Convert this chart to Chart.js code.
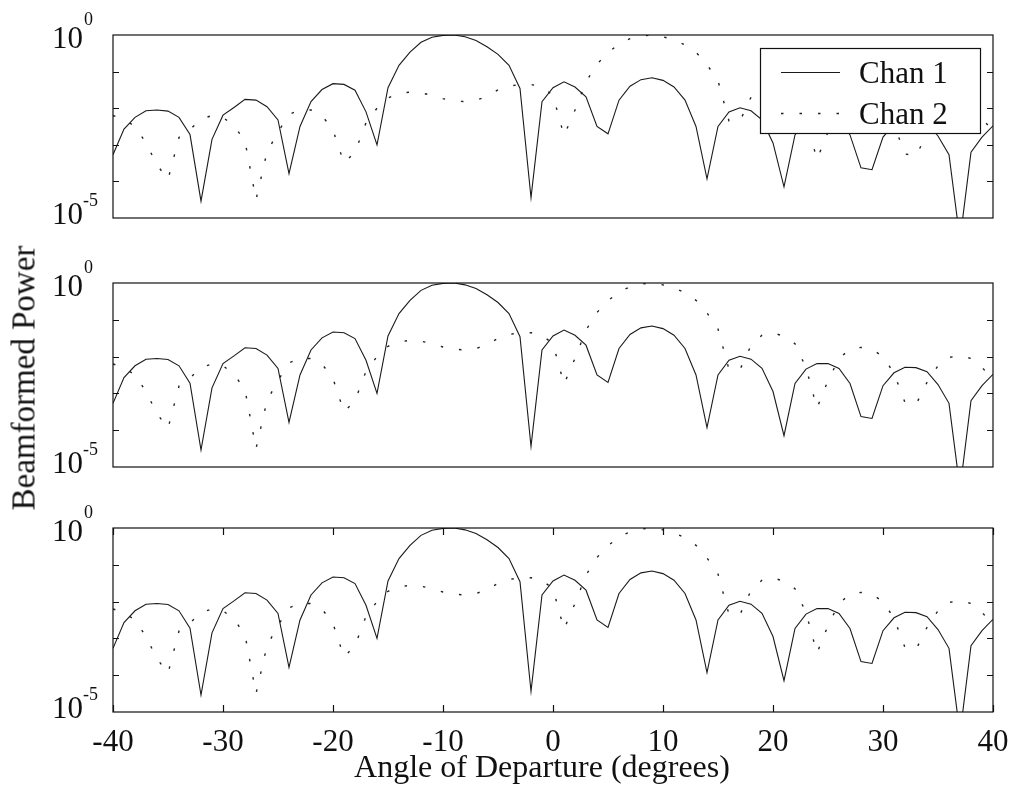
<!DOCTYPE html>
<html>
<head>
<meta charset="utf-8">
<script src="https://cdn.jsdelivr.net/npm/chart.js@4.4.0/dist/chart.umd.min.js"></script>
<style>
  body { margin: 0; background: #fff; }
  #wrap { position: relative; width: 1013px; height: 799px; overflow: hidden; }
  canvas { position: absolute; left: 0; }
  .title { position: absolute; font-family: "Liberation Serif", "Times New Roman", serif; color: #111; white-space: nowrap; }
  #ytitle { left: 24px; top: 378px; font-size: 33px; transform: translate(-50%, -50%) rotate(-90deg); }
  #xtitle { left: 542px; top: 766px; font-size: 32px; transform: translate(-50%, -50%); }
</style>
</head>
<body>
<div id="wrap">
  <canvas id="c1" width="1013" height="245" style="top:0px"></canvas>
  <canvas id="c2" width="1013" height="245" style="top:245px"></canvas>
  <canvas id="c3" width="1013" height="309" style="top:490px"></canvas>
  <div id="ytitle" class="title">Beamformed Power</div>
  <div id="xtitle" class="title">Angle of Departure (degrees)</div>
</div>
<script>
// angles (degrees)
const angles = [-40, -39, -38, -37, -36, -35, -34, -33, -32, -31, -30, -29, -28, -27, -26, -25, -24, -23, -22, -21,
  -20, -19, -18, -17, -16, -15, -14, -13, -12, -11, -10, -9, -8, -7, -6, -5, -4, -3, -2, -1,
  0, 1, 2, 3, 4, 5, 6, 7, 8, 9, 10, 11, 12, 13, 14, 15, 16, 17, 18, 19,
  20, 21, 22, 23, 24, 25, 26, 27, 28, 29, 30, 31, 32, 33, 34, 35, 36, 37, 38, 39, 40];

// beamformed power, as log10 values
const chan1Log = [-3.27, -2.57, -2.25, -2.07, -2.05, -2.08, -2.25, -2.72, -4.54, -2.85, -2.19, -1.98, -1.76, -1.78, -1.96, -2.32, -3.79, -2.50, -1.82, -1.49,
  -1.33, -1.35, -1.51, -2.10, -3.00, -1.44, -0.83, -0.47, -0.20, -0.06, -0.01, 0, -0.05, -0.15, -0.32, -0.53, -0.83, -1.46, -4.44, -1.82,
  -1.44, -1.28, -1.42, -1.69, -2.50, -2.70, -1.78, -1.40, -1.22, -1.17, -1.24, -1.42, -1.78, -2.50, -3.93, -2.50, -2.10, -1.99, -2.07, -2.32,
  -2.95, -4.15, -2.73, -2.34, -2.19, -2.19, -2.32, -2.73, -3.63, -3.68, -2.79, -2.44, -2.29, -2.30, -2.41, -2.76, -3.27, -5.6, -3.20, -2.79, -2.48];

const chan2Log = [-2.20, -2.30, -2.50, -2.95, -3.55, -3.95, -2.80, -2.58, -2.30, -2.20, -2.25, -2.48, -2.90, -4.50, -3.20, -2.65, -2.17, -2.05, -2.05, -2.20,
  -2.60, -3.50, -3.20, -2.40, -2.00, -1.72, -1.60, -1.56, -1.58, -1.65, -1.74, -1.80, -1.82, -1.78, -1.68, -1.50, -1.40, -1.35, -1.35, -1.42,
  -1.65, -2.75, -2.05, -1.28, -0.80, -0.48, -0.25, -0.10, -0.03, 0, -0.05, -0.13, -0.27, -0.47, -0.81, -1.25, -2.35, -2.35, -1.70, -1.42,
  -1.35, -1.45, -1.65, -2.30, -3.40, -2.65, -2.05, -1.80, -1.75, -1.80, -2.00, -2.45, -3.25, -3.30, -2.70, -2.25, -2.02, -1.98, -2.05, -2.30, -2.60];

const seriesNames = ['Chan 1', 'Chan 2'];
const xTickLabels = ['-40', '-30', '-20', '-10', '0', '10', '20', '30', '40'];
const yTickValues = [1e-1, 1e-2, 1e-3, 1e-4];
const yLabelExps = ['0', '-5'];

const serif = '"Liberation Serif", "Times New Roman", serif';
const ink = '#111';

function toPoints(logs) {
  return angles.map((a, i) => ({ x: a, y: Math.pow(10, logs[i]) }));
}

// box, inward ticks, 10^n labels and the legend
const framePlugin = {
  id: 'frame',
  afterDraw(chart, args, opts) {
    const ctx = chart.ctx;
    const a = chart.chartArea;
    const x = chart.scales.x;
    const y = chart.scales.y;
    ctx.save();
    ctx.strokeStyle = ink;
    ctx.lineWidth = 1.2;
    ctx.strokeRect(a.left, a.top, a.right - a.left, a.bottom - a.top);
    ctx.beginPath();
    yTickValues.forEach(v => {
      const py = Math.round(y.getPixelForValue(v)) + 0.5;
      ctx.moveTo(a.left, py); ctx.lineTo(a.left + 6, py);
      ctx.moveTo(a.right, py); ctx.lineTo(a.right - 6, py);
    });
    if (opts.xTicks) {
      x.ticks.forEach(t => {
        const px = Math.round(x.getPixelForValue(t.value)) + 0.5;
        ctx.moveTo(px, a.bottom); ctx.lineTo(px, a.bottom - 7);
        ctx.moveTo(px, a.top); ctx.lineTo(px, a.top + 7);
      });
    }
    ctx.stroke();

    // y labels 10^0 and 10^-5
    ctx.fillStyle = ink;
    const pTop = y.getPixelForValue(1);
    const pBot = y.getPixelForValue(1e-5);
    ctx.textBaseline = 'alphabetic';
    ctx.font = '31px ' + serif;
    ctx.textAlign = 'right';
    ctx.fillText('10', 83, pTop + 13);
    ctx.fillText('10', 83, pBot + 6);
    ctx.font = '18px ' + serif;
    ctx.textAlign = 'left';
    ctx.fillText(yLabelExps[0], 84, pTop - 10);
    ctx.fillText(yLabelExps[1], 83, pBot - 12);

    if (opts.legend) {
      const bx = 760, by = 48, bw = 220, bh = 85;
      ctx.fillStyle = '#fff';
      ctx.fillRect(bx, by, bw, bh);
      ctx.lineWidth = 1.2;
      ctx.strokeStyle = ink;
      ctx.strokeRect(bx + 0.5, by + 0.5, bw, bh);
      chart.data.datasets.forEach((ds, i) => {
        const ry = by + 24 + i * 41;
        ctx.save();
        ctx.strokeStyle = ds.borderColor;
        ctx.lineWidth = ds.borderWidth;
        ctx.setLineDash(ds.borderDash || []);
        ctx.beginPath();
        ctx.moveTo(781, ry + 0.5);
        ctx.lineTo(840, ry + 0.5);
        ctx.stroke();
        ctx.restore();
        ctx.fillStyle = ink;
        ctx.font = '31px ' + serif;
        ctx.textAlign = 'left';
        ctx.fillText(ds.label, 859, ry + 11);
      });
    }
    ctx.restore();
  }
};

function makeChart(id, pad, showX, showLegend) {
  const ctx = document.getElementById(id).getContext('2d');
  const conData = {
    datasets: [{
      label: seriesNames[0],
      data: toPoints(chan1Log),
      borderColor: '#1a1a1a',
      borderWidth: 1.1,
      pointRadius: 0,
      tension: 0,
      fill: false
    }, {
      label: seriesNames[1],
      data: toPoints(chan2Log),
      borderColor: '#222',
      borderWidth: 1.4,
      borderDash: [2.5, 16],
      pointRadius: 0,
      tension: 0,
      fill: false
    }]
  };
  const options = {
    responsive: false,
    animation: false,
    devicePixelRatio: 1,
    layout: { padding: pad },
    plugins: {
      legend: { display: false },
      tooltip: { enabled: false },
      frame: { xTicks: showX, legend: showLegend }
    },
    scales: {
      x: {
        type: 'linear',
        min: -40,
        max: 40,
        display: showX,
        grid: { display: false },
        border: { display: false },
        ticks: {
          stepSize: 10,
          maxRotation: 0,
          autoSkip: false,
          padding: 4,
          color: ink,
          font: { family: serif, size: 31 },
          callback: (v, i) => xTickLabels[i]
        },
        afterFit: s => {
          if (showX) s.height = 87;
          s.paddingLeft = 0;
          s.paddingRight = 0;
        }
      },
      y: {
        type: 'logarithmic',
        min: 1e-5,
        max: 1,
        grid: { display: false },
        border: { display: false },
        ticks: { display: false },
        afterFit: s => { s.width = 113; s.paddingTop = 0; s.paddingBottom = 0; }
      }
    }
  };
  return new Chart(ctx, { type: 'line', data: conData, options: options, plugins: [framePlugin] });
}

makeChart('c1', { left: 0, right: 20, top: 35, bottom: 27 }, false, true);
makeChart('c2', { left: 0, right: 20, top: 38, bottom: 23 }, false, false);
makeChart('c3', { left: 0, right: 20, top: 38, bottom: 0 }, true, false);
</script>
</body>
</html>
